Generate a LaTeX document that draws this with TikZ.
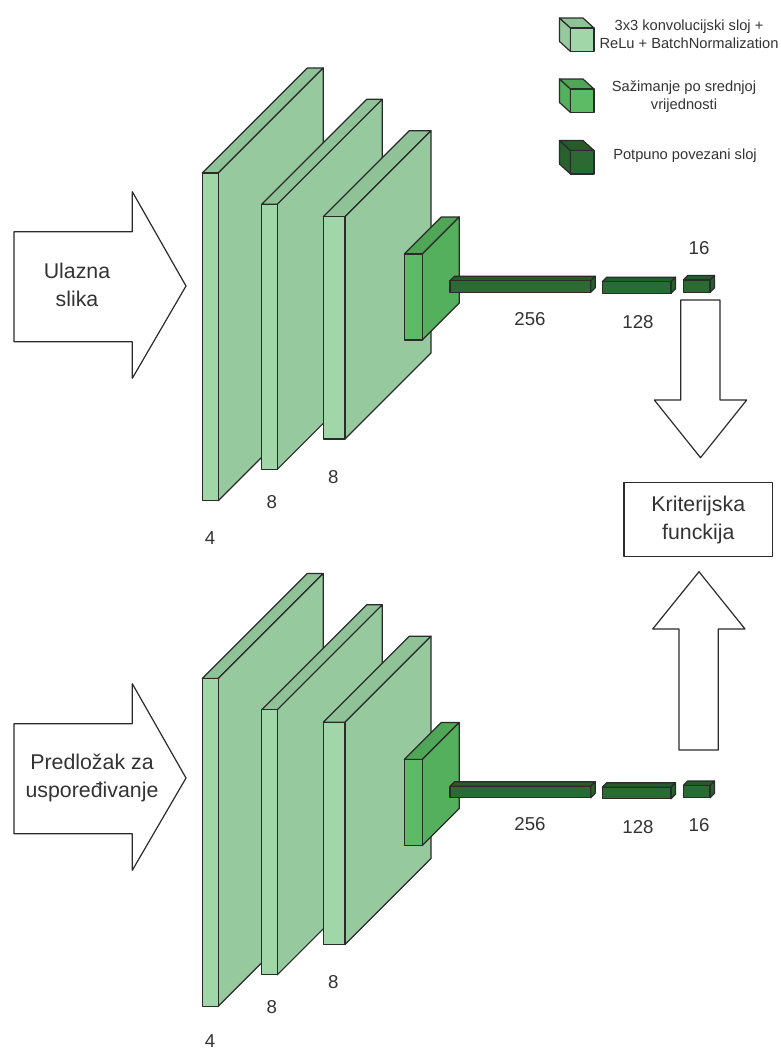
\documentclass[tikz,border=0pt]{standalone}
\usepackage{fontspec}
\setmainfont{Liberation Sans}
\definecolor{convfront}{HTML}{A0D6A8}
\definecolor{convside}{HTML}{96CA9E}
\definecolor{convtop}{HTML}{8FC297}
\definecolor{poolfront}{HTML}{5DBB65}
\definecolor{poolside}{HTML}{54B05C}
\definecolor{pooltop}{HTML}{4FA656}
\definecolor{densefront}{HTML}{2C6A33}
\definecolor{denseside}{HTML}{28602E}
\definecolor{densetop}{HTML}{265B2C}
\definecolor{edge}{HTML}{2B2B2B}
\definecolor{txt}{HTML}{333333}
\tikzset{every picture/.style={
  line join=round               % Sharp corners look odd on thin slabs.
  }
}

\begin{document}
\begin{tikzpicture}[
    x=0.75pt, y=-0.75pt,
    face/.style={
      draw=edge,
      line width=0.9pt
    },
    num/.style={
      text=txt,
      inner sep=1pt,
      font=\fontsize{14}{17}\selectfont
    },
    big/.style={
      text=txt,
      align=center,
      font=\fontsize{16}{21}\selectfont
    },
    leg/.style={
      text=txt,
      align=center,
      font=\fontsize{11}{13.5}\selectfont
    },
    blockarrow/.style={
      draw=edge,
      fill=white,
      line width=0.9pt
    }]

    \useasboundingbox (0,0) rectangle (781,1050);

    % Helper macros.
    % A slab: x, y of the front top-left corner, width, height, depth, colour.
    \def\slab#1#2#3#4#5#6{
      \filldraw[face,fill=#6top] (#1,#2) -- ++(#5,-#5) -- ++(#3,0)
        -- ++(-#5,#5) -- cycle;
      \filldraw[face,fill=#6side] (#1+#3,#2) -- ++(#5,-#5) -- ++(0,#4)
        -- ++(-#5,#5) -- cycle;
      \filldraw[face,fill=#6front] (#1,#2) rectangle ++(#3,#4);
    }
    % A legend cube: x, y of the front top-left corner, colour.
    \def\ico#1#2#3{
      \filldraw[face,fill=#3side] (#1,#2) -- ++(-11,-10) -- ++(0,23.5)
        -- ++(11,10) -- cycle;
      \filldraw[face,fill=#3top] (#1,#2) -- ++(-11,-10) -- ++(23.5,0)
        -- ++(11,10) -- cycle;
      \filldraw[face,fill=#3front] (#1,#2) rectangle ++(23.5,23.5);
    }
    % One network: name prefix, vertical offset.
    \def\net#1#2{
      \slab{202.3}{173+#2}{16}{327.7}{105}{conv}
      \slab{261.7}{204.3+#2}{15.6}{265}{105}{conv}
      \slab{323.3}{216.7+#2}{21.7}{222.3}{86}{conv}
      \slab{404.3}{254+#2}{18}{86}{37}{pool}
      \slab{450}{280.7+#2}{140.7}{11.6}{4.5}{dense}
      \slab{602.3}{281.7+#2}{68.7}{11.6}{4.5}{dense}
      \slab{683.3}{280+#2}{26.7}{12.3}{4.5}{dense}
      \node[num] (#1c2) at (271.7,501.7+#2) {8};
      \node[num] (#1c3) at (333.3,476.7+#2) {8};
      \node[num] (#1d1) at (530,319+#2) {256};
      \node[num] (#1d2) at (638,322+#2) {128};
    }

    % Draw the legend.
    \ico{570.5}{28}{conv}
    \ico{570.5}{89}{pool}
    \ico{570.5}{150.5}{dense}
    \node[leg] (legconv) at (689,34)
      {3x3 konvolucijski sloj +\\ReLu + BatchNormalization};
    \node[leg] (legpool) at (684,97) {Sažimanje po srednjoj\\vrijednosti};
    \node[leg] (legdense) at (685,156) {Potpuno povezani sloj};

    % Draw the two networks.
    \net{a}{0}
    \net{b}{505.5}
    \node[num] (ac1) at (210,538.5) {4};
    \node[num] (bc1) at (210,1041) {4};
    \node[num] (ad3) at (699,248) {16};
    \node[num] (bd3) at (699,825) {16};

    % Draw the input arrows.
    \draw[blockarrow] (14,231.7) -- (132.3,231.7) -- (132.3,191.7)
      -- (186,286) -- (132.3,378.3) -- (132.3,341.7) -- (14,341.7) -- cycle;
    \node[big] (inimg) at (77,285) {Ulazna\\slika};
    \draw[blockarrow] (14,723.7) -- (132.3,723.7) -- (132.3,683.7)
      -- (186,778) -- (132.3,870.3) -- (132.3,833.7) -- (14,833.7) -- cycle;
    \node[big] (intpl) at (92,778) {Predložak za\\uspoređivanje};

    % Draw the loss and the arrows into it.
    \draw[blockarrow] (680.7,300) -- (720,300) -- (720,400) -- (746.7,400)
      -- (700.5,457.7) -- (654.3,400) -- (680.7,400) -- cycle;
    \draw[blockarrow] (679,750) -- (718.3,750) -- (718.3,629) -- (745,629)
      -- (699,571.7) -- (652.7,629) -- (679,629) -- cycle;
    \node[big,draw=edge,line width=0.9pt,minimum width=111.5pt,
      minimum height=55.5pt] (loss) at (698.3,519.7) {Kriterijska\\funckija};
  \end{tikzpicture}
\end{document}
